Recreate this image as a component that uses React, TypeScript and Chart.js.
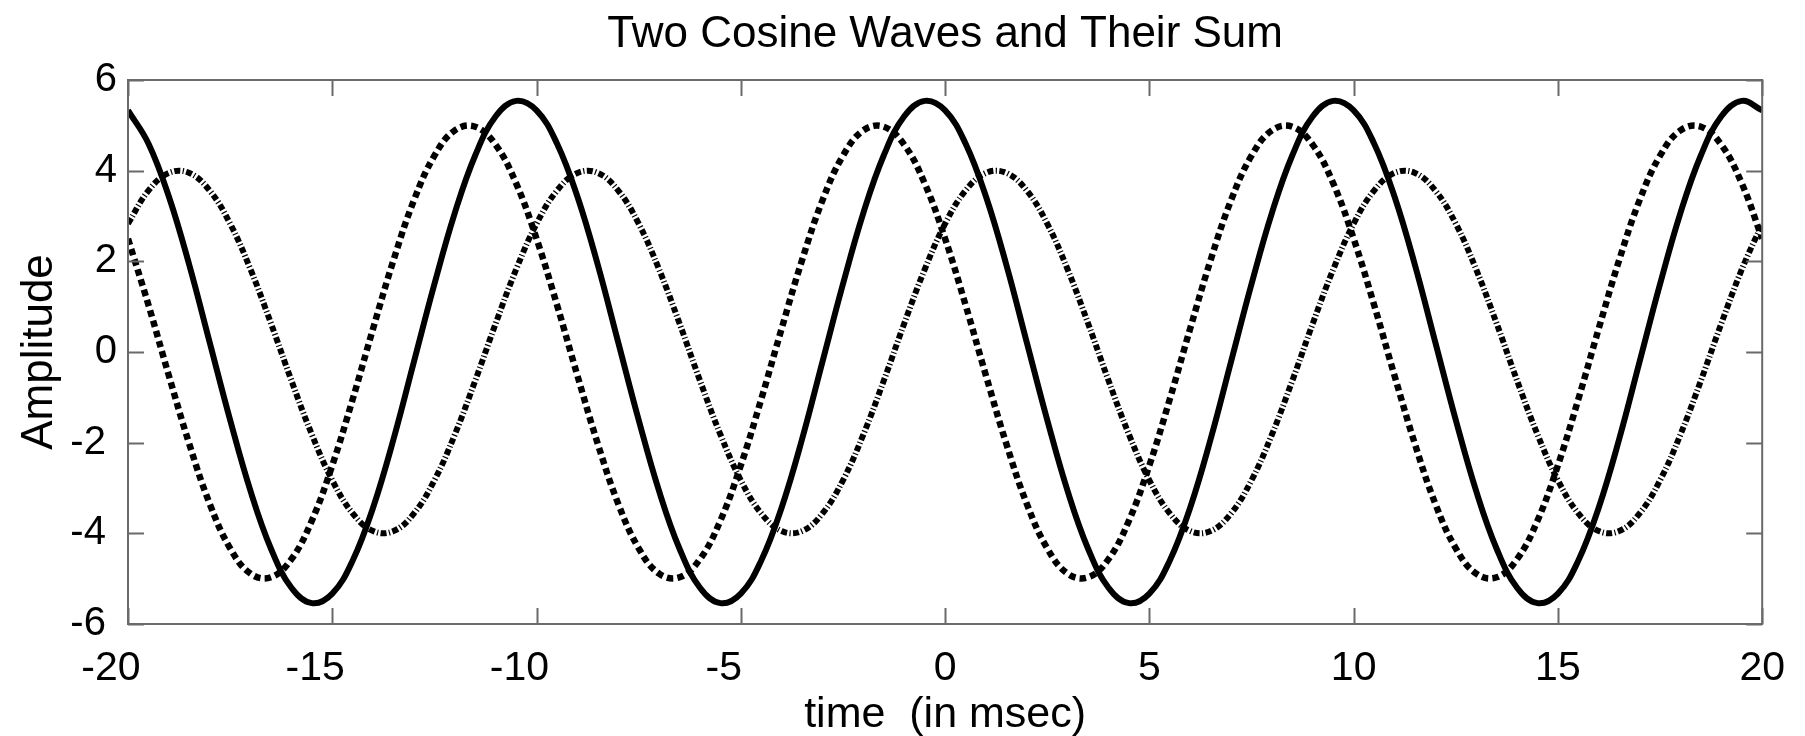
import React, { useEffect, useRef } from "react";
import { Chart, registerables } from "chart.js";

Chart.register(...registerables);

// time axis (msec)
const timeMs = [
  -20, -19.5, -19, -18.5, -18, -17.5, -17, -16.5, -16, -15.5,
  -15, -14.5, -14, -13.5, -13, -12.5, -12, -11.5, -11, -10.5,
  -10, -9.5, -9, -8.5, -8, -7.5, -7, -6.5, -6, -5.5,
  -5, -4.5, -4, -3.5, -3, -2.5, -2, -1.5, -1, -0.5,
  0, 0.5, 1, 1.5, 2, 2.5, 3, 3.5, 4, 4.5,
  5, 5.5, 6, 6.5, 7, 7.5, 8, 8.5, 9, 9.5,
  10, 10.5, 11, 11.5, 12, 12.5, 13, 13.5, 14, 14.5,
  15, 15.5, 16, 16.5, 17, 17.5, 18, 18.5, 19, 19.5,
  20,
];

// first cosine (dotted, amplitude 5)
const waveA = [
  2.5, 1.04, -0.52, -2.03, -3.35, -4.33, -4.89, -4.97, -4.57, -3.72,
  -2.5, -1.04, 0.52, 2.03, 3.35, 4.33, 4.89, 4.97, 4.57, 3.72,
  2.5, 1.04, -0.52, -2.03, -3.35, -4.33, -4.89, -4.97, -4.57, -3.72,
  -2.5, -1.04, 0.52, 2.03, 3.35, 4.33, 4.89, 4.97, 4.57, 3.72,
  2.5, 1.04, -0.52, -2.03, -3.35, -4.33, -4.89, -4.97, -4.57, -3.72,
  -2.5, -1.04, 0.52, 2.03, 3.35, 4.33, 4.89, 4.97, 4.57, 3.72,
  2.5, 1.04, -0.52, -2.03, -3.35, -4.33, -4.89, -4.97, -4.57, -3.72,
  -2.5, -1.04, 0.52, 2.03, 3.35, 4.33, 4.89, 4.97, 4.57, 3.72,
  2.5,
];

// second cosine (dash-dot, amplitude 4)
const waveB = [
  2.83, 3.56, 3.95, 3.95, 3.56, 2.83, 1.82, 0.63, -0.63, -1.82,
  -2.83, -3.56, -3.95, -3.95, -3.56, -2.83, -1.82, -0.63, 0.63, 1.82,
  2.83, 3.56, 3.95, 3.95, 3.56, 2.83, 1.82, 0.63, -0.63, -1.82,
  -2.83, -3.56, -3.95, -3.95, -3.56, -2.83, -1.82, -0.63, 0.63, 1.82,
  2.83, 3.56, 3.95, 3.95, 3.56, 2.83, 1.82, 0.63, -0.63, -1.82,
  -2.83, -3.56, -3.95, -3.95, -3.56, -2.83, -1.82, -0.63, 0.63, 1.82,
  2.83, 3.56, 3.95, 3.95, 3.56, 2.83, 1.82, 0.63, -0.63, -1.82,
  -2.83, -3.56, -3.95, -3.95, -3.56, -2.83, -1.82, -0.63, 0.63, 1.82,
  2.83,
];

// their sum (solid)
const waveSum = [
  5.33, 4.6, 3.43, 1.92, 0.21, -1.5, -3.07, -4.34, -5.2, -5.54,
  -5.33, -4.6, -3.43, -1.92, -0.21, 1.5, 3.07, 4.34, 5.2, 5.54,
  5.33, 4.6, 3.43, 1.92, 0.21, -1.5, -3.07, -4.34, -5.2, -5.54,
  -5.33, -4.6, -3.43, -1.92, -0.21, 1.5, 3.07, 4.34, 5.2, 5.54,
  5.33, 4.6, 3.43, 1.92, 0.21, -1.5, -3.07, -4.34, -5.2, -5.54,
  -5.33, -4.6, -3.43, -1.92, -0.21, 1.5, 3.07, 4.34, 5.2, 5.54,
  5.33, 4.6, 3.43, 1.92, 0.21, -1.5, -3.07, -4.34, -5.2, -5.54,
  -5.33, -4.6, -3.43, -1.92, -0.21, 1.5, 3.07, 4.34, 5.2, 5.54,
  5.33,
];

const xTicks = [-20, -15, -10, -5, 0, 5, 10, 15, 20];
const yTicks = [-6, -4, -2, 0, 2, 4, 6];

const TITLE = "Two Cosine Waves and Their Sum";
const X_LABEL = "time  (in msec)";
const Y_LABEL = "Amplitude";

const FONT = '"Liberation Sans", Arial, Helvetica, sans-serif';

const framePlugin = {
  id: "matlabFrame",
  afterDatasetsDraw(chart: any) {
    const { ctx, chartArea, scales } = chart;
    const { left, right, top, bottom } = chartArea;
    const tl = 16;
    ctx.save();
    ctx.strokeStyle = "#6a6a6a";
    ctx.lineWidth = 2;
    ctx.beginPath();
    xTicks.forEach((v) => {
      const px = Math.round(scales.x.getPixelForValue(v)) + 0.5;
      ctx.moveTo(px, bottom);
      ctx.lineTo(px, bottom - tl);
      ctx.moveTo(px, top);
      ctx.lineTo(px, top + tl);
    });
    yTicks.forEach((v) => {
      const py = Math.round(scales.y.getPixelForValue(v)) + 0.5;
      ctx.moveTo(left, py);
      ctx.lineTo(left + tl, py);
      ctx.moveTo(right, py);
      ctx.lineTo(right - tl, py);
    });
    ctx.stroke();
    ctx.strokeRect(left, top, right - left, bottom - top);
    ctx.restore();
  },
};

const pts = (xs: number[], ys: number[]) => xs.map((x, i) => ({ x, y: ys[i] }));

export default function App() {
  const ref = useRef<HTMLCanvasElement | null>(null);

  useEffect(() => {
    if (!ref.current) return;
    const chart = new Chart(ref.current, {
      type: "line",
      data: {
        datasets: [
          {
            label: "x1",
            data: pts(timeMs, waveA),
            borderColor: "#000",
            borderWidth: 6.5,
            borderDash: [6.5, 4.2],
            borderCapStyle: "butt",
            pointRadius: 0,
            tension: 0.4,
            clip: 0,
          },
          {
            label: "x2",
            data: pts(timeMs, waveB),
            borderColor: "#000",
            borderWidth: 6,
            borderDash: [6, 2.4, 1.2, 2.4],
            borderCapStyle: "butt",
            pointRadius: 0,
            tension: 0.4,
            clip: 0,
          },
          {
            label: "sum",
            data: pts(timeMs, waveSum),
            borderColor: "#000",
            borderWidth: 6,
            pointRadius: 0,
            tension: 0.4,
            clip: 0,
          },
        ],
      } as any,
      options: {
        animation: false,
        responsive: true,
        maintainAspectRatio: false,
        layout: { padding: { left: 0, right: 39, top: 0, bottom: 0 } },
        plugins: {
          legend: { display: false },
          tooltip: { enabled: false },
          title: {
            display: true,
            fullSize: false,
            text: TITLE,
            color: "#000",
            font: { family: FONT, size: 44, weight: "normal" },
            padding: { top: 8, bottom: 19.2 },
          },
        },
        scales: {
          x: {
            type: "linear",
            min: -20,
            max: 20,
            afterFit: (s: any) => {
              s.height = 112;
            },
            afterBuildTicks: (s: any) => {
              s.ticks = xTicks.map((v) => ({ value: v }));
            },
            ticks: {
              autoSkip: false,
              maxRotation: 0,
              padding: 20,
              color: "#000",
              font: { family: FONT, size: 41 },
              callback: (v: any) => (Number(v) < 0 ? String(v) + "   " : String(v)),
            },
            grid: { display: false, drawTicks: false },
            border: { display: false },
            title: {
              display: true,
              text: X_LABEL,
              color: "#000",
              font: { family: FONT, size: 43 },
              padding: { top: 0, bottom: -5 },
            },
          },
          y: {
            type: "linear",
            min: -6,
            max: 6,
            afterFit: (s: any) => {
              s.width = 128;
            },
            afterBuildTicks: (s: any) => {
              s.ticks = yTicks.map((v) => ({ value: v }));
            },
            ticks: {
              padding: 11,
              color: "#000",
              font: { family: FONT, size: 40 },
              callback: (v: any) => (Number(v) < 0 ? String(v) + " " : String(v)),
            },
            grid: { display: false, drawTicks: false },
            border: { display: false },
            title: {
              display: true,
              text: Y_LABEL,
              color: "#000",
              font: { family: FONT, size: 44 },
              padding: { top: 13, bottom: 0 },
            },
          },
        },
      } as any,
      plugins: [framePlugin],
    });
    return () => chart.destroy();
  }, []);

  return (
    <div
      style={{
        position: "fixed",
        left: 0,
        top: 0,
        width: "1805px",
        height: "736px",
        background: "#fff",
      }}
    >
      <canvas ref={ref} />
    </div>
  );
}
